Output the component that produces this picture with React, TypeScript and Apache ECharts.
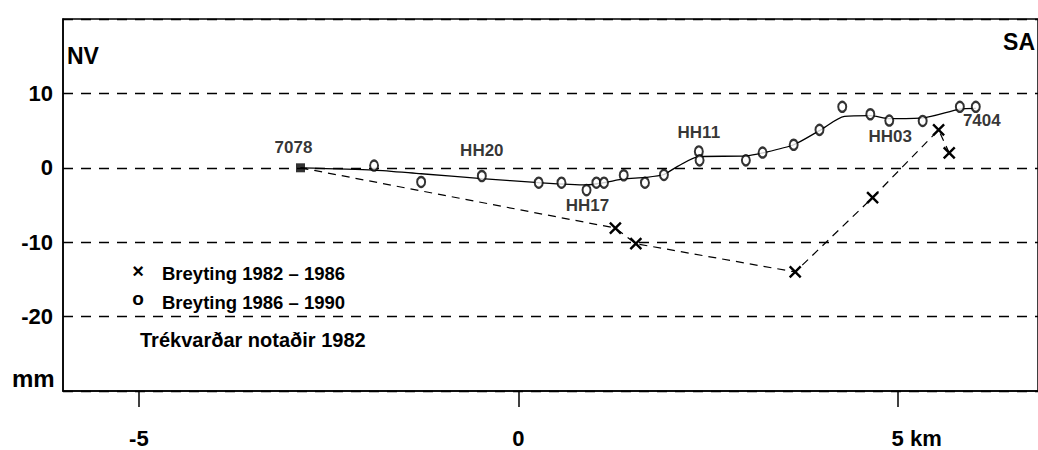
import React, { useEffect, useRef } from "react";
import * as echarts from "echarts";

// Stations (reference points with names)
const stationNames = ["7078", "HH20", "HH17", "HH11", "HH03", "7404"];
const stationX = [-2.87, -0.48, 0.9, 2.38, 4.89, 6.03];
const stationY = [0, -1.0, -3.0, 2.2, 6.35, 8.2];

// Breyting 1982-1986 (x marks, dashed line)
const change8286X = [-2.87, 1.28, 1.55, 3.65, 4.67, 5.54, 5.68];
const change8286Y = [0, -8.1, -10.2, -14.0, -4.0, 5.1, 2.0];

// Breyting 1986-1990 (circles)
const change8690X = [-1.9, -1.28, -0.48, 0.27, 0.57, 0.9, 1.03, 1.13, 1.39, 1.67, 1.92, 2.38, 2.39, 3.0, 3.22, 3.63, 3.97, 4.27, 4.64, 4.89, 5.33, 5.82, 6.03];
const change8690Y = [0.3, -1.9, -1.1, -2.0, -2.0, -3.0, -2.0, -2.0, -1.0, -2.0, -0.95, 2.2, 1.0, 1.0, 2.05, 3.1, 5.1, 8.2, 7.2, 6.35, 6.3, 8.2, 8.2];

// Fitted curve through 1986-1990 changes
const trendX = [-2.87, -1.9, -1.28, -0.48, 0.27, 0.9, 1.13, 1.39, 1.67, 1.92, 2.1, 2.38, 3.0, 3.22, 3.63, 3.97, 4.3, 4.64, 4.89, 5.33, 5.82, 6.03];
const trendY = [0, -0.3, -0.8, -1.45, -2.0, -2.3, -2.0, -1.5, -1.3, -0.9, 0.2, 1.5, 1.6, 2.0, 3.1, 5.0, 6.9, 7.0, 6.6, 6.7, 7.9, 8.0];

const xTickValues = [-5, 0, 5];
const yHiddenLabels = [20, -30];

const legendLabels = ["Breyting 1982 – 1986", "Breyting 1986 – 1990"];
const noteText = "Trékvarðar notaðir 1982";

// label offsets (styling)
const labelOffsets: Record<string, [number, number]> = {
  "7078": [-7, -20],
  HH20: [0, -25],
  HH17: [1, 15],
  HH11: [0, -19],
  HH03: [1, 16],
  "7404": [6, 14],
};

const FONT = '"Liberation Sans", Arial, Helvetica, sans-serif';
const zip = (xs: number[], ys: number[]) => xs.map((x, i) => [x, ys[i]]);

export default function App() {
  const ref = useRef<HTMLDivElement>(null);
  useEffect(() => {
    if (!ref.current) return;
    const chart = echarts.init(ref.current, undefined, { renderer: "svg" });
    const xMark = "path://M0,0L10,10M10,0L0,10";
    const option: any = {
      animation: false,
      backgroundColor: "#fff",
      textStyle: { fontFamily: FONT, color: "#000" },
      grid: {
        left: 63,
        right: 0,
        top: 19,
        bottom: 59,
        show: true,
        borderColor: "#000",
        borderWidth: 1.5,
        backgroundColor: "transparent",
      },
      xAxis: {
        type: "value",
        min: -6,
        max: 6.85,
        axisLine: { show: true, onZero: false, lineStyle: { color: "#000", width: 1.5 } },
        splitLine: { show: false },
        axisTick: { show: true, customValues: xTickValues, length: 16, lineStyle: { color: "#000", width: 1.5 } },
        axisLabel: {
          customValues: xTickValues,
          margin: 36,
          fontSize: 22,
          fontWeight: "bold",
          color: "#000",
          fontFamily: FONT,
          formatter: (v: number) => (v === 5 ? "{u|5 km}" : String(v)),
          rich: {
            u: { fontSize: 22, fontWeight: "bold", fontFamily: FONT, color: "#000", padding: [0, 0, 0, 38] },
          },
        },
      },
      yAxis: {
        type: "value",
        min: -30,
        max: 20,
        interval: 10,
        axisLine: { show: true, onZero: false, lineStyle: { color: "#000", width: 1.5 } },
        axisTick: { show: false },
        splitLine: { show: true, lineStyle: { type: [10, 8], color: "#000", width: 1.3 } },
        axisLabel: {
          margin: 10,
          fontSize: 22,
          fontWeight: "bold",
          color: "#000",
          fontFamily: FONT,
          formatter: (v: number) => (yHiddenLabels.includes(v) ? "" : String(v)),
        },
      },
      series: [
        {
          name: legendLabels[0],
          type: "line",
          data: zip(change8286X, change8286Y).map((p, i) => (i === 0 ? { value: p, symbol: "none" } : p)),
          lineStyle: { type: [8, 6], color: "#000", width: 1.2 },
          symbol: xMark,
          symbolSize: 11,
          showSymbol: true,
          itemStyle: { color: "rgba(0,0,0,0)", borderColor: "#000", borderWidth: 2.4 },
          z: 3,
        },
        {
          name: "trend",
          type: "line",
          data: zip(trendX, trendY),
          smooth: 0.25,
          symbol: "none",
          lineStyle: { color: "#000", width: 1.3 },
          z: 3,
        },
        {
          name: legendLabels[1],
          type: "scatter",
          data: zip(change8690X, change8690Y),
          symbol: "circle",
          symbolSize: [8, 10],
          itemStyle: { color: "#fff", borderColor: "#000", borderWidth: 2.2 },
          z: 4,
        },
        {
          name: "stations",
          type: "scatter",
          data: stationNames.map((n, i) => ({
            name: n,
            value: [stationX[i], stationY[i]],
            symbolSize: i === 0 ? 9 : 1,
            itemStyle: { color: i === 0 ? "#000" : "rgba(0,0,0,0)" },
            label: { offset: labelOffsets[n] },
          })),
          symbol: "rect",
          label: {
            show: true,
            position: "inside",
            formatter: (p: any) => p.name,
            fontSize: 17,
            fontWeight: "bold",
            fontFamily: FONT,
            color: "#000",
          },
          z: 5,
        },
      ],
      graphic: [
        { type: "text", x: 67, y: 56, style: { text: "NV", font: `bold 23px ${FONT}`, fill: "#000", verticalAlign: "middle" } },
        { type: "text", x: 1035, y: 42, style: { text: "SA", font: `bold 23px ${FONT}`, fill: "#000", align: "right", verticalAlign: "middle" } },
        { type: "text", x: 12, y: 378, style: { text: "mm", font: `bold 24px ${FONT}`, fill: "#000", verticalAlign: "middle" } },
        { type: "text", x: 138, y: 271, style: { text: "×", font: `bold 20px ${FONT}`, fill: "#000", align: "center", verticalAlign: "middle" } },
        { type: "text", x: 162, y: 273, style: { text: legendLabels[0], font: `bold 18.5px ${FONT}`, fill: "#000", verticalAlign: "middle" } },
        { type: "text", x: 138, y: 298, style: { text: "o", font: `bold 19px ${FONT}`, fill: "#000", align: "center", verticalAlign: "middle" } },
        { type: "text", x: 162, y: 302, style: { text: legendLabels[1], font: `bold 18.5px ${FONT}`, fill: "#000", verticalAlign: "middle" } },
        { type: "text", x: 140, y: 340, style: { text: noteText, font: `bold 20px ${FONT}`, fill: "#000", verticalAlign: "middle" } },
      ],
    };
    chart.setOption(option);
    return () => chart.dispose();
  }, []);
  return (
    <div
      ref={ref}
      style={{ position: "fixed", left: 0, top: 0, width: 1038, height: 450, background: "#fff" }}
    />
  );
}
